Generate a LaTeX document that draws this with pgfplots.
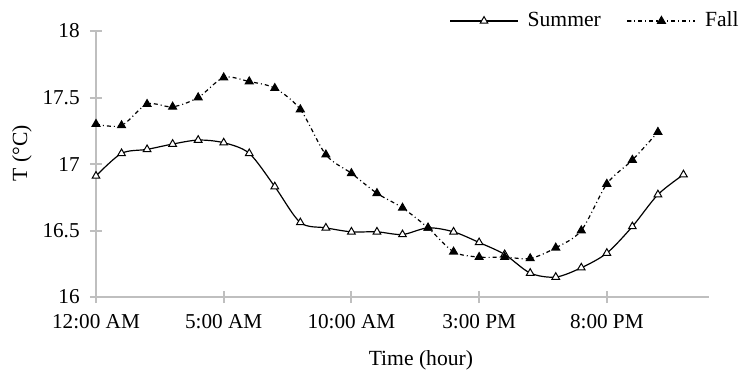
\documentclass[border=0pt]{standalone}
\usepackage{pgfplots}
\pgfplotsset{compat=1.18}
\usepackage{fontspec}
\setmainfont{Liberation Serif}
\definecolor{axgray}{HTML}{BFBFBF}
\begin{document}
\fontsize{10.6bp}{12bp}\selectfont
\begin{tikzpicture}
\useasboundingbox (-48bp,-38bp) rectangle (323bp,148.5bp);
\begin{axis}[
  at={(0,0)}, anchor=south west,
  scale only axis, width=306.5bp, height=133bp,
  xmin=0, xmax=24, ymin=16, ymax=18,
  axis lines*=left,
  axis line style={draw=axgray, line width=1.2bp},
  every tick/.style={draw=axgray, line width=1bp},
  tick align=center, major tick length=6bp,
  xtick={0,5,10,15,20},
  xticklabels={12:00 AM,5:00 AM,10:00 AM,3:00 PM,8:00 PM},
  ytick={16,16.5,17,17.5,18},
  /pgf/number format/assume math mode=true,
  every tick label/.append style={font=\fontsize{10.6bp}{12bp}\selectfont, text=black},
  xticklabel style={anchor=base, inner sep=0pt, yshift=-12.5bp},
  yticklabel style={anchor=east, inner sep=0pt, xshift=-5bp},
  xlabel={Time (hour)},
  ylabel={T (°C)},
  label style={font=\fontsize{10.8bp}{12bp}\selectfont},
  xlabel style={at={(axis description cs:0.530,0)}, anchor=center, yshift=-31.5bp},
  ylabel style={at={(axis description cs:-0.1207,0.54)}, anchor=center},
  legend style={at={(axis description cs:1.0490,1.0376)}, anchor=east, draw=none, fill=none,
    inner sep=0pt, legend columns=2, font=\fontsize{10.8bp}{12bp}\selectfont,
    nodes={inner sep=0pt},
    /tikz/every odd column/.append style={column sep=4.5bp},
    /tikz/every even column/.append style={column sep=13bp}},
  legend cell align=left,
  legend image code/.code={\draw[mark repeat=2,mark phase=2,#1] plot coordinates {(0bp,0bp) (17bp,0bp) (34bp,0bp)};},
]
\addplot[black, line width=0.6bp, smooth, tension=0.5,
  mark=triangle*, mark size=2.2bp, mark options={fill=white, solid, line width=0.5bp}]
coordinates {
(0,16.91) (1,17.08) (2,17.11) (3,17.15) (4,17.18) (5,17.16) (6,17.08) (7,16.83)
(8,16.56) (9,16.52) (10,16.49) (11,16.49) (12,16.47) (13,16.52) (14,16.49) (15,16.41)
(16,16.32) (17,16.18) (18,16.15) (19,16.22) (20,16.33) (21,16.53) (22,16.77) (23,16.92)
};
\addlegendentry{Summer}
\addplot[black, line width=0.6bp, smooth, tension=0.5,
  dash pattern=on 2bp off 1.5bp on 0.5bp off 1.5bp,
  mark=triangle*, mark size=2.2bp, mark options={fill=black, solid}]
coordinates {
(0,17.30) (1,17.29) (2,17.45) (3,17.43) (4,17.50) (5,17.65) (6,17.62) (7,17.57)
(8,17.41) (9,17.07) (10,16.93) (11,16.78) (12,16.67) (13,16.52) (14,16.34) (15,16.30)
(16,16.30) (17,16.29) (18,16.37) (19,16.50) (20,16.85) (21,17.03) (22,17.24)
};
\addlegendentry{Fall}
\end{axis}
\end{tikzpicture}
\end{document}
